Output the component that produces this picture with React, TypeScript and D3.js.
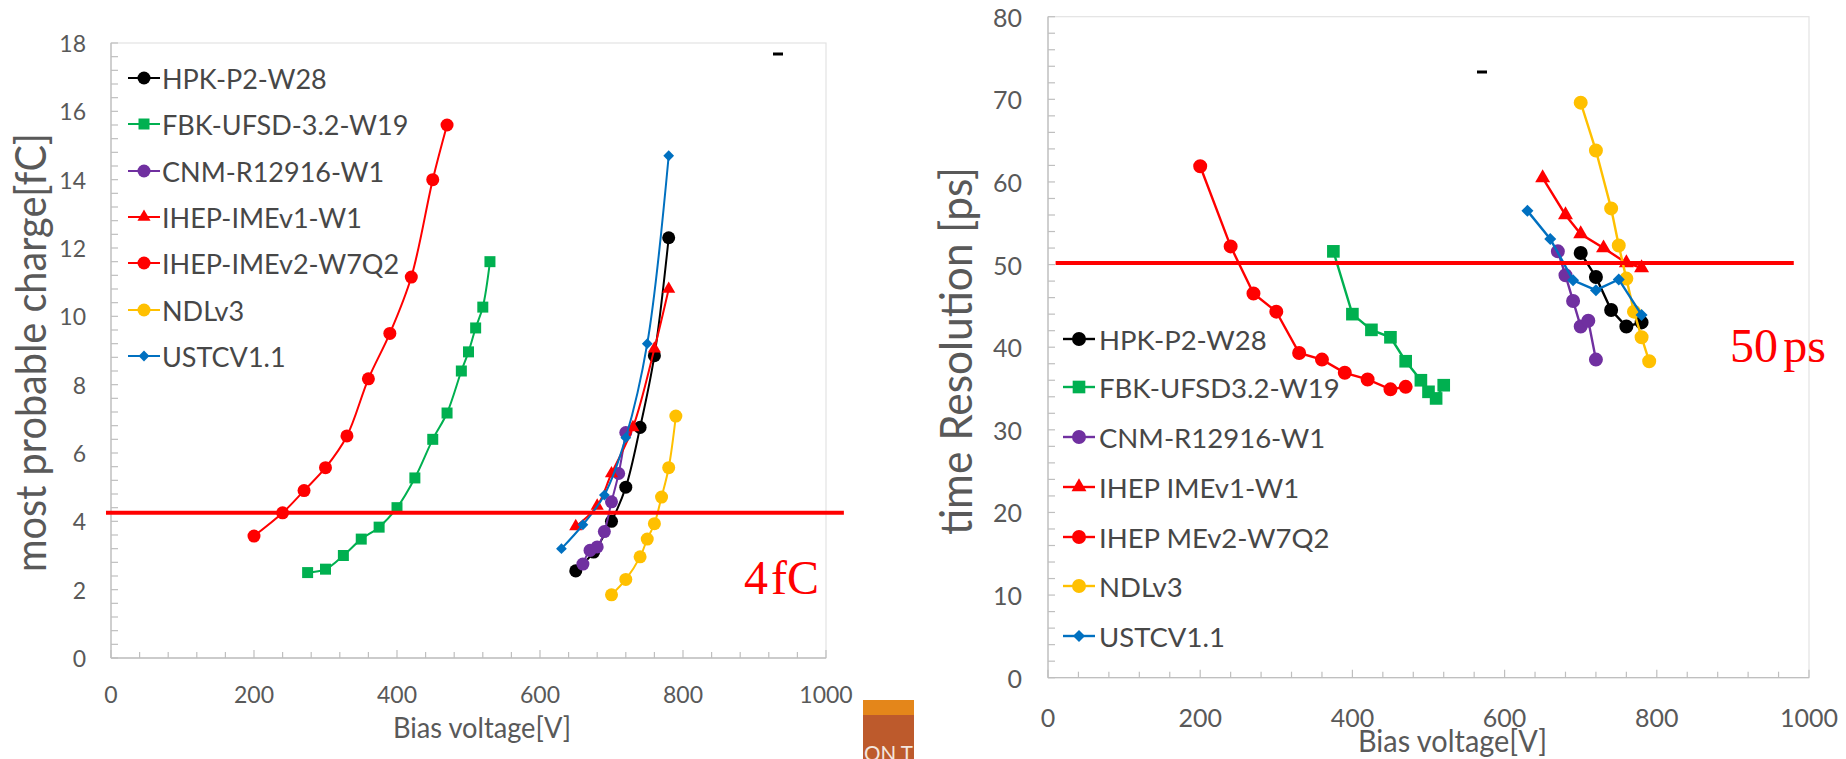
import React from 'react';
import * as d3 from 'd3';

type Pt = [number, number];

// ---------- shared axis data ----------
const voltTicks = [0, 200, 400, 600, 800, 1000];
const chargeTicks = [0, 2, 4, 6, 8, 10, 12, 14, 16, 18];
const resTicks = [0, 10, 20, 30, 40, 50, 60, 70, 80];

const namesCharge = ['HPK-P2-W28', 'FBK-UFSD-3.2-W19', 'CNM-R12916-W1', 'IHEP-IMEv1-W1', 'IHEP-IMEv2-W7Q2', 'NDLv3', 'USTCV1.1'];
const namesRes = ['HPK-P2-W28', 'FBK-UFSD3.2-W19', 'CNM-R12916-W1', 'IHEP IMEv1-W1', 'IHEP MEv2-W7Q2', 'NDLv3', 'USTCV1.1'];
const seriesColors = ['#000000', '#00b050', '#7030a0', '#ff0000', '#ff0000', '#ffc000', '#0070c0'];
const seriesShapes = ['circle', 'square', 'circle', 'triangle', 'circle', 'circle', 'diamond'];

// ---------- most probable charge [V, fC] ----------
const chargeHPK: Pt[] = [[650, 2.55], [675, 3.1], [700, 4.0], [720, 5.0], [740, 6.75], [760, 8.85], [780, 12.3]];
const chargeFBK: Pt[] = [[275, 2.5], [300, 2.6], [325, 3.0], [350, 3.48], [375, 3.83], [400, 4.4], [425, 5.27], [450, 6.4], [470, 7.17], [490, 8.4], [500, 8.96], [510, 9.66], [520, 10.27], [530, 11.6]];
const chargeCNM: Pt[] = [[660, 2.75], [670, 3.15], [680, 3.25], [690, 3.7], [700, 4.57], [710, 5.4], [720, 6.6]];
const chargeIMEv1: Pt[] = [[650, 3.85], [680, 4.45], [700, 5.4], [730, 6.75], [760, 9.05], [780, 10.8]];
const chargeIMEv2: Pt[] = [[200, 3.57], [240, 4.25], [270, 4.9], [300, 5.57], [330, 6.5], [360, 8.17], [390, 9.5], [420, 11.15], [450, 14.0], [470, 15.6]];
const chargeNDL: Pt[] = [[700, 1.85], [720, 2.3], [740, 2.96], [750, 3.48], [760, 3.93], [770, 4.71], [780, 5.57], [790, 7.08]];
const chargeUSTC: Pt[] = [[630, 3.2], [660, 3.9], [690, 4.77], [720, 6.45], [750, 9.2], [780, 14.7]];

// ---------- time resolution [V, ps] ----------
const resHPK: Pt[] = [[700, 51.4], [720, 48.5], [740, 44.5], [760, 42.5], [780, 43.0]];
const resFBK: Pt[] = [[375, 51.6], [400, 44.0], [425, 42.1], [450, 41.2], [470, 38.3], [490, 36.0], [500, 34.6], [510, 33.8], [520, 35.4]];
const resCNM: Pt[] = [[670, 51.6], [680, 48.7], [690, 45.6], [700, 42.5], [710, 43.2], [720, 38.5]];
const resIMEv1: Pt[] = [[650, 60.5], [680, 56.0], [700, 53.7], [730, 52.0], [760, 50.2], [780, 49.6]];
const resIMEv2: Pt[] = [[200, 61.9], [240, 52.2], [270, 46.5], [300, 44.3], [330, 39.3], [360, 38.5], [390, 36.9], [420, 36.1], [450, 34.9], [470, 35.2]];
const resNDL: Pt[] = [[700, 69.6], [720, 63.8], [740, 56.8], [750, 52.3], [760, 48.3], [770, 44.3], [780, 41.2], [790, 38.3]];
const resUSTC: Pt[] = [[630, 56.5], [660, 53.1], [690, 48.1], [720, 46.9], [750, 48.2], [780, 43.9]];

const chargeSeries = [chargeHPK, chargeFBK, chargeCNM, chargeIMEv1, chargeIMEv2, chargeNDL, chargeUSTC];
const resSeries = [resHPK, resFBK, resCNM, resIMEv1, resIMEv2, resNDL, resUSTC];

// thresholds: [value, xStart V, xEnd V]
const chargeThreshold = [4.25, -7, 1025];
const resThreshold = [50.2, 10, 980];

const FONT = "Lato, 'Open Sans', sans-serif";
const SERIF = "'Liberation Serif', 'Times New Roman', serif";
const TICK_COLOR = '#595959';
const LEGEND_COLOR = '#474747';

function symbolPath(shape: string, sz: Record<string, number>): string {
  const t = shape === 'square' || shape === 'diamond' ? d3.symbolSquare : shape === 'triangle' ? d3.symbolTriangle : d3.symbolCircle;
  return d3.symbol().type(t).size(sz[shape])() as string;
}

function Marker({ shape, color, x, y, sz }: { shape: string; color: string; x: number; y: number; sz: Record<string, number> }) {
  const rot = shape === 'diamond' ? ' rotate(45)' : '';
  return <path d={symbolPath(shape, sz)} transform={`translate(${x},${y})${rot}`} fill={color} />;
}

interface ChartCfg {
  x0: number; x1: number; y0: number; y1: number;
  yMax: number; yTicks: number[]; yMinor: number;
  series: Pt[][]; names: string[];
  smooth: boolean;
  sz: Record<string, number>;
  lineW: number;
  yLabelEnd: number; yLabelSize: number;
  xLabelBase: number; xLabelSize: number;
  yTitle: string; yTitleX: number; yTitleY: number; yTitleLen: number; yTitleSize: number;
  xTitleX: number; xTitleY: number; xTitleLen: number; xTitleSize: number;
  legX: number; legY: number[]; legSize: number; legLine: [number, number];
  threshold: number[];
}

function Chart({ c }: { c: ChartCfg }) {
  const x = d3.scaleLinear().domain([0, 1000]).range([c.x0, c.x1]);
  const y = d3.scaleLinear().domain([0, c.yMax]).range([c.y0, c.y1]);
  const line = d3.line<Pt>().x(d => x(d[0])).y(d => y(d[1])).curve(c.smooth ? d3.curveCatmullRom.alpha(0.5) : d3.curveLinear);
  const yMinorTicks = d3.range(0, c.yMax + 1e-6, c.yMinor);
  const xMinorTicks = d3.range(0, 1000 + 1e-6, 40);
  return (
    <g>
      {/* plot frame */}
      <rect x={c.x0} y={c.y1} width={c.x1 - c.x0} height={c.y0 - c.y1} fill="none" stroke="#e3e3e3" strokeWidth={1.2} />
      <line x1={c.x0} x2={c.x0} y1={c.y0} y2={c.y1} stroke="#bfbfbf" strokeWidth={1.3} />
      <line x1={c.x0} x2={c.x1} y1={c.y0} y2={c.y0} stroke="#bfbfbf" strokeWidth={1.3} />
      {yMinorTicks.map((t, i) => (
        <line key={'ym' + i} x1={c.x0} x2={c.x0 + 7} y1={y(t)} y2={y(t)} stroke="#bfbfbf" strokeWidth={1.2} />
      ))}
      {xMinorTicks.map((t, i) => (
        <line key={'xm' + i} x1={x(t)} x2={x(t)} y1={c.y0} y2={c.y0 - (t % 200 === 0 ? 8 : 6)} stroke="#bfbfbf" strokeWidth={1.2} />
      ))}
      {c.yTicks.map(t => (
        <text key={'yl' + t} x={c.yLabelEnd} y={y(t)} textAnchor="end" dominantBaseline="central" fontSize={c.yLabelSize} fill={TICK_COLOR}>{t}</text>
      ))}
      {voltTicks.map(t => (
        <text key={'xl' + t} x={x(t)} y={c.xLabelBase} textAnchor="middle" fontSize={c.xLabelSize} fill={TICK_COLOR}>{t}</text>
      ))}
      <text transform={`translate(${c.yTitleX},${c.yTitleY}) rotate(-90)`} textAnchor="middle" fontSize={c.yTitleSize} fill={TICK_COLOR}
        textLength={c.yTitleLen} lengthAdjust="spacingAndGlyphs">{c.yTitle}</text>
      <text x={c.xTitleX} y={c.xTitleY} textAnchor="middle" fontSize={c.xTitleSize} fill={TICK_COLOR}
        textLength={c.xTitleLen} lengthAdjust="spacingAndGlyphs">Bias voltage[V]</text>
      {/* series */}
      {c.series.map((s, i) => (
        <g key={'s' + i}>
          <path d={line(s) as string} fill="none" stroke={seriesColors[i]} strokeWidth={c.lineW} />
          {s.map((d, j) => (
            <Marker key={j} shape={seriesShapes[i]} color={seriesColors[i]} x={x(d[0])} y={y(d[1])} sz={c.sz} />
          ))}
        </g>
      ))}
      {/* legend */}
      {c.names.map((n, i) => (
        <g key={'lg' + i}>
          <line x1={c.legLine[0]} x2={c.legLine[1]} y1={c.legY[i]} y2={c.legY[i]} stroke={seriesColors[i]} strokeWidth={c.lineW} />
          <Marker shape={seriesShapes[i]} color={seriesColors[i]} x={(c.legLine[0] + c.legLine[1]) / 2} y={c.legY[i]} sz={c.sz} />
          <text x={c.legX} y={c.legY[i]} dominantBaseline="central" fontSize={c.legSize} fill={LEGEND_COLOR}>{n}</text>
        </g>
      ))}
      {/* threshold */}
      <line x1={x(c.threshold[1])} x2={x(c.threshold[2])} y1={y(c.threshold[0])} y2={y(c.threshold[0])} stroke="#ff0000" strokeWidth={4} />
    </g>
  );
}

const leftCfg: ChartCfg = {
  x0: 111, x1: 826, y0: 658, y1: 43,
  yMax: 18, yTicks: chargeTicks, yMinor: 0.4,
  series: chargeSeries, names: namesCharge, smooth: true,
  sz: { circle: 133, square: 121, triangle: 75, diamond: 58 },
  lineW: 2,
  yLabelEnd: 86, yLabelSize: 23,
  xLabelBase: 703, xLabelSize: 23,
  yTitle: 'most probable charge[fC]', yTitleX: 46, yTitleY: 352.5, yTitleLen: 439, yTitleSize: 42,
  xTitleX: 482, xTitleY: 738, xTitleLen: 178, xTitleSize: 28,
  legX: 162, legY: [78, 124, 171, 217, 263, 310, 356], legSize: 27, legLine: [128, 160],
  threshold: chargeThreshold,
};

const rightCfg: ChartCfg = {
  x0: 1048, x1: 1809, y0: 677.7, y1: 16.7,
  yMax: 80, yTicks: resTicks, yMinor: 2,
  series: resSeries, names: namesRes, smooth: false,
  sz: { circle: 154, square: 160, triangle: 97, diamond: 72 },
  lineW: 2.4,
  yLabelEnd: 1022, yLabelSize: 25,
  xLabelBase: 727, xLabelSize: 25,
  yTitle: 'time Resolution [ps]', yTitleX: 972, yTitleY: 351, yTitleLen: 368, yTitleSize: 44,
  xTitleX: 1452.5, xTitleY: 752, xTitleLen: 189, xTitleSize: 30,
  legX: 1099, legY: [339, 387, 437, 487, 537, 586, 636], legSize: 27.5, legLine: [1063, 1095],
  threshold: resThreshold,
};

export default function App() {
  return (
    <svg width={1846} height={759} style={{ position: 'absolute', left: 0, top: 0, background: '#ffffff' }} fontFamily={FONT}>
      <rect x={0} y={0} width={1846} height={759} fill="#ffffff" />
      <Chart c={leftCfg} />
      <Chart c={rightCfg} />
      {/* small dashes */}
      <rect x={773} y={52.5} width={10} height={3} fill="#000" />
      <rect x={1477} y={70.5} width={10} height={3} fill="#000" />
      {/* annotations */}
      <text x={744} y={594} fontFamily={SERIF} fontSize={48} fill="#ff0000">4</text>
      <text x={819} y={594} fontFamily={SERIF} fontSize={48} fill="#ff0000" textAnchor="end">fC</text>
      <text x={1730} y={362} fontFamily={SERIF} fontSize={48} fill="#ff0000">50</text>
      <text x={1826} y={362} fontFamily={SERIF} fontSize={48} fill="#ff0000" textAnchor="end">ps</text>
      {/* slide decoration box */}
      <rect x={863} y={700} width={51} height={15} fill="#e4861a" />
      <rect x={863} y={715} width={51} height={44} fill="#bd5a2c" />
      <text x={864} y={761} fontSize={22} fill="#f3e6df" textLength={49} lengthAdjust="spacingAndGlyphs">ON T</text>
    </svg>
  );
}
